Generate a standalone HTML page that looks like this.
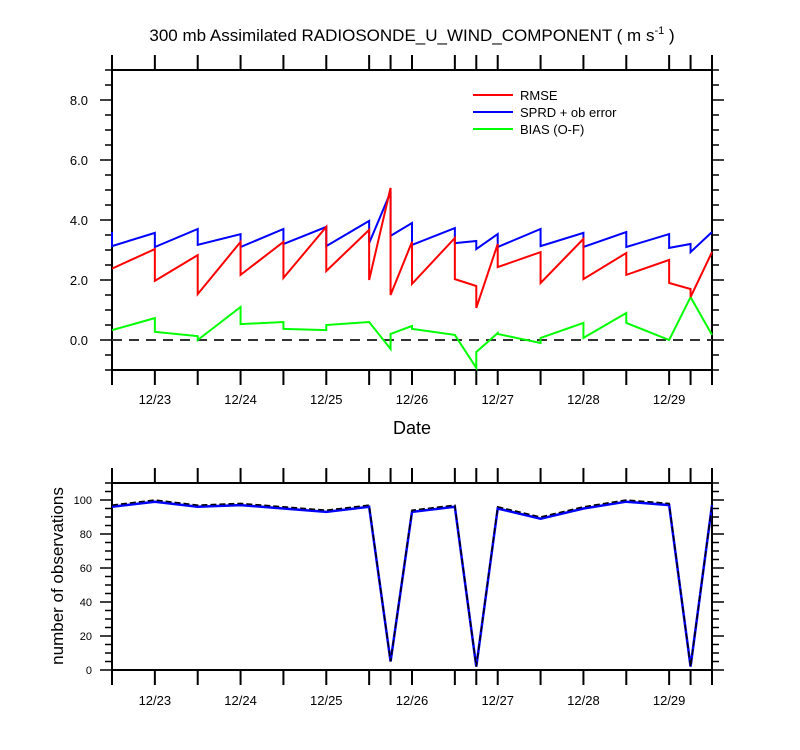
<!DOCTYPE html>
<html><head><meta charset="utf-8"><style>
body{margin:0;background:#fff;}
svg{display:block;font-family:"Liberation Sans",sans-serif;}
</style></head><body>
<svg id="c" width="800" height="750"></svg>
<script>
const times=[22.5,23,23.5,24,24.5,25,25.5,25.75,26,26.5,26.75,27,27.5,28,28.5,29,29.25,29.5];
const rmsePrior=[null,3.03,2.83,3.27,3.27,3.77,3.67,5.07,3.27,3.4,1.8,3.2,2.93,3.37,2.9,2.67,1.7,2.93];
const rmsePost=[2.38,1.97,1.53,2.17,2.07,2.3,2.0,1.5,1.87,2.03,1.07,2.43,1.9,2.03,2.17,1.9,1.43,null];
const sprdPrior=[3.6,3.57,3.7,3.53,3.7,3.77,3.97,4.93,3.9,3.73,3.3,3.53,3.7,3.57,3.6,3.53,3.2,3.6];
const sprdPost=[3.13,3.1,3.17,3.1,3.2,3.13,3.23,3.47,3.17,3.23,3.03,3.1,3.13,3.1,3.1,3.07,2.93,null];
const biasPrior=[null,0.73,0.13,1.1,0.6,0.33,0.6,-0.3,0.47,0.17,-0.93,0.23,-0.1,0.57,0.9,0.0,1.43,0.17];
const biasPost=[0.33,0.27,0.0,0.53,0.37,0.5,0.6,0.2,0.37,0.17,-0.4,0.2,0.07,0.07,0.57,0.0,1.43,null];
const obsUsed=[96,99,96,97,95,93,96,5,93,96,2,95,89,95,99,97,2,97];
const obsTotal=[97,100,97,98,96,94,97,5,94,97,2,96,90,96,100,98,2,97];
const dateLabels=["12/23","12/24","12/25","12/26","12/27","12/28","12/29"];
const dateVals=[23,24,25,26,27,28,29];
const topTicks=[0,2,4,6,8];
const botTicks=[0,20,40,60,80,100];

const svg=document.getElementById('c');
const NS='http://www.w3.org/2000/svg';
function mk(t,a,p){const e=document.createElementNS(NS,t);for(const k in a)e.setAttribute(k,a[k]);(p||svg).appendChild(e);return e;}
const X0=112,X1=712;
const xs=t=>X0+(t-22.5)/7*(X1-X0);
const ys1=v=>370-(v+1)/10*300;
const ys2=v=>670-v/110*187;

function frame(top,bot,name){
  const r=mk('rect',{x:X0,y:top,width:X1-X0,height:bot-top,fill:'none',stroke:'#000','stroke-width':2});
  
  
  times.forEach(t=>{
    const x=xs(t);
    mk('line',{x1:x,x2:x,y1:top,y2:top-15,stroke:'#000','stroke-width':2});
    mk('line',{x1:x,x2:x,y1:bot,y2:bot+15,stroke:'#000','stroke-width':2});
  });
}
function xlabels(y){
  dateVals.forEach((d,i)=>{
    const t=mk('text',{x:xs(d),y:y,'text-anchor':'middle','font-size':13});
    t.textContent=dateLabels[i];
    
    
  });
}
function poly(pts,color,w,name,dash){
  const p=mk('polyline',{points:pts.map(q=>q.join(',')).join(' '),fill:'none',stroke:color,'stroke-width':w,'stroke-linejoin':'miter'});
  if(dash)p.setAttribute('stroke-dasharray',dash);
  
  
}
function saw(prior,post){
  const pts=[];
  times.forEach((t,i)=>{
    if(prior[i]!=null)pts.push([xs(t),ys1(prior[i])]);
    if(post[i]!=null)pts.push([xs(t),ys1(post[i])]);
  });
  return pts;
}

// title
let tt=mk('text',{x:412,y:41,'text-anchor':'middle','font-size':17});
tt.innerHTML='300 mb Assimilated RADIOSONDE_U_WIND_COMPONENT ( m s<tspan dy="-7" font-size="11">-1</tspan><tspan dy="7"> )</tspan>';



// top plot
frame(70,370,'top-plot-frame');
for(let v=-1;v<=9.001;v+=0.5){
  const y=ys1(v),maj=Math.abs(v%2)<1e-6;
  mk('line',{x1:X0,x2:X0-(maj?12:7),y1:y,y2:y,stroke:'#000','stroke-width':1.5});
  mk('line',{x1:X1,x2:X1+(maj?12:7),y1:y,y2:y,stroke:'#000','stroke-width':1.5});
}
topTicks.forEach(v=>{
  const t=mk('text',{x:88,y:ys1(v)+5,'text-anchor':'end','font-size':13});
  t.textContent=v.toFixed(1);
  
  
});
poly([[X0,ys1(0)],[X1,ys1(0)]],'#333',2,'zero-line','10,7');
poly(saw(biasPrior,biasPost),'#00ff00',2,'bias-line');
poly(saw(sprdPrior,sprdPost),'#0000ff',2,'sprd-line');
poly(saw(rmsePrior,rmsePost),'#ff0000',2,'rmse-line');
xlabels(404);
let dl=mk('text',{x:412,y:434,'text-anchor':'middle','font-size':18});
dl.textContent='Date';



// legend
[['RMSE','#ff0000'],['SPRD + ob error','#0000ff'],['BIAS (O-F)','#00ff00']].forEach((e,i)=>{
  const y=95+i*17;
  const g=mk('g',{});
  
  
  mk('line',{x1:473,x2:513,y1:y,y2:y,stroke:e[1],'stroke-width':2},g);
  const t=mk('text',{x:520,y:y+5,'font-size':13},g);
  t.textContent=e[0];
});

// bottom plot
frame(483,670,'bottom-plot-frame');
for(let v=0;v<=110;v+=5){
  const y=ys2(v),maj=v%20===0;
  mk('line',{x1:X0,x2:X0-(maj?12:7),y1:y,y2:y,stroke:'#000','stroke-width':1.5});
  mk('line',{x1:X1,x2:X1+(maj?12:7),y1:y,y2:y,stroke:'#000','stroke-width':1.5});
}
botTicks.forEach(v=>{
  const t=mk('text',{x:92,y:ys2(v)+4,'text-anchor':'end','font-size':11});
  t.textContent=v;
  
  
});
poly(times.map((t,i)=>[xs(t),ys2(obsUsed[i])]),'#0000ff',2.5,'obs-used-line');
poly(times.map((t,i)=>[xs(t),ys2(obsTotal[i])]),'#000',1.5,'obs-total-line','6,3');
xlabels(705);
let yl=mk('text',{x:63,y:576,'text-anchor':'middle','font-size':17,transform:'rotate(-90 63 576)'});
yl.textContent='number of observations';


</script>
</body></html>
